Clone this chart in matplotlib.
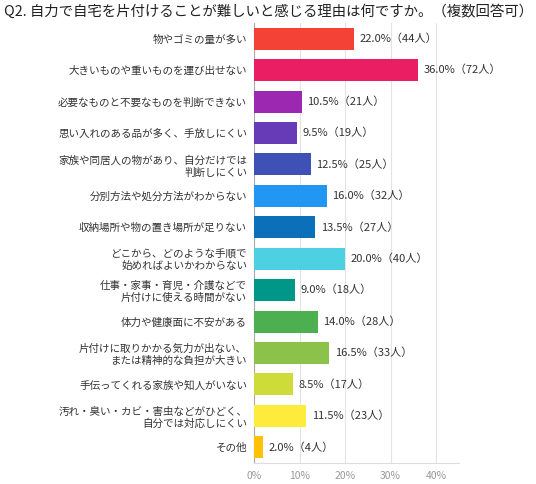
import matplotlib
matplotlib.use("Agg")
import matplotlib.pyplot as plt
import numpy as np

plt.rcParams['font.family'] = ['Noto Sans CJK JP', 'DejaVu Sans']

labels = [
    "物やゴミの量が多い",
    "大きいものや重いものを運び出せない",
    "必要なものと不要なものを判断できない",
    "思い入れのある品が多く、手放しにくい",
    "家族や同居人の物があり、自分だけでは\n判断しにくい",
    "分別方法や処分方法がわからない",
    "収納場所や物の置き場所が足りない",
    "どこから、どのような手順で\n始めればよいかわからない",
    "仕事・家事・育児・介護などで\n片付けに使える時間がない",
    "体力や健康面に不安がある",
    "片付けに取りかかる気力が出ない、\nまたは精神的な負担が大きい",
    "手伝ってくれる家族や知人がいない",
    "汚れ・臭い・カビ・害虫などがひどく、\n自分では対応しにくい",
    "その他",
]
percents = [22.0, 36.0, 10.5, 9.5, 12.5, 16.0, 13.5, 20.0, 9.0, 14.0, 16.5, 8.5, 11.5, 2.0]
counts = [44, 72, 21, 19, 25, 32, 27, 40, 18, 28, 33, 17, 23, 4]
colors = ['#F44336', '#E91E63', '#9C27B0', '#673AB7', '#3F51B5', '#2196F3', '#0C6FBA',
          '#4DD0E1', '#009688', '#4CAF50', '#8BC34A', '#CDDC39', '#FFEB3B', '#FFC107']
xticks = [0, 10, 20, 30, 40]

fig = plt.figure(figsize=(5.36, 4.84), dpi=100)
ax = fig.add_axes([0.474, 0.0434, 0.382, 0.9091])

y = np.arange(len(labels))
ax.barh(y, percents, height=0.7, color=colors, zorder=3)
for yi, p, c in zip(y, percents, counts):
    ax.text(p + 1.2, yi, f"{p:.1f}%（{c}人）", va='center', ha='left', fontsize=8, color='#333333')

ax.set_xlim(0, 45)
ax.set_ylim(len(labels) - 0.5, -0.5)
ax.set_yticks(y)
ax.set_yticklabels(labels, fontsize=7.6, color='#333333', linespacing=1.25)
ax.set_xticks(xticks)
ax.set_xticklabels([f"{t}%" for t in xticks], fontsize=7.5, color='#999999')
ax.tick_params(axis='y', length=0, pad=5)
ax.tick_params(axis='x', length=0, pad=6)
ax.grid(axis='x', color='#e3e3e3', linewidth=0.8, zorder=0)
for s in ['top', 'right']:
    ax.spines[s].set_visible(False)
ax.spines['left'].set_color('#aaaaaa')
ax.spines['bottom'].set_color('#dddddd')

fig.text(0.5, 0.975, "Q2. 自力で自宅を片付けることが難しいと感じる理由は何ですか。（複数回答可）",
         ha='center', va='center', fontsize=10.4, color='#222222')

fig.savefig("out.png", dpi=100)
